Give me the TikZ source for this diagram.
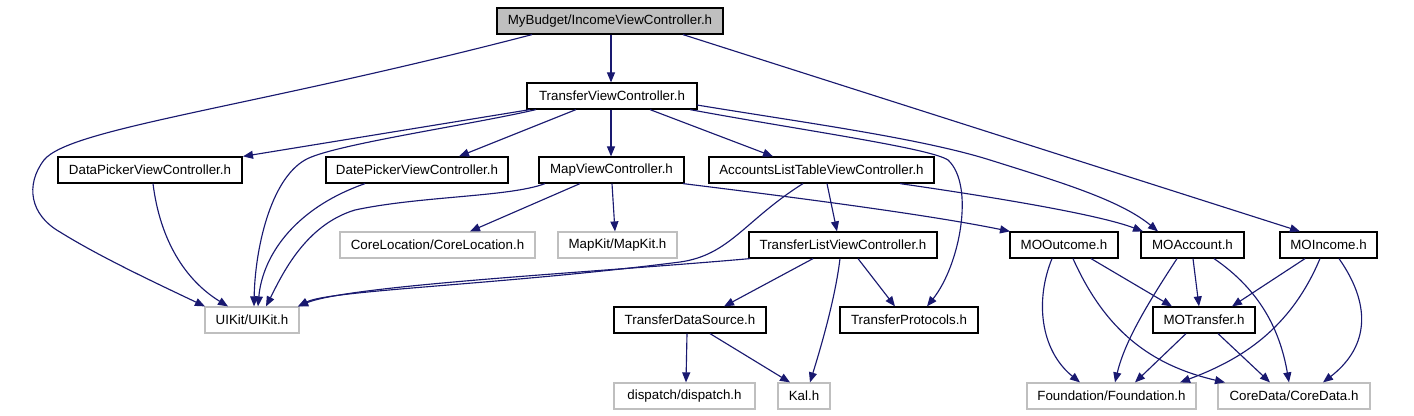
\documentclass[tikz,border=0pt]{standalone}
\usepackage{fontspec}
\setmainfont{Liberation Sans}
\usetikzlibrary{arrows.meta,calc}
\definecolor{edgeblue}{HTML}{191970}
\definecolor{grey75}{HTML}{BFBFBF}
\tikzset{
  box/.style={draw=black,line width=0.9pt,rectangle,inner sep=0pt,minimum height=19.5pt,font=\fontsize{10}{12}\selectfont},
  extbox/.style={box,draw=grey75},
  rootbox/.style={box,fill=grey75},
  edge/.style={draw=edgeblue,line width=0.85pt,-{Triangle[length=7.5pt,width=6pt]}},
}
\begin{document}
\begin{tikzpicture}[x=0.75pt,y=-0.75pt]
\fill[white] (0,0) rectangle (1414,415);
\useasboundingbox (0,0) rectangle (1414,415);
% nodes
\node[rootbox,minimum width=169.5pt] (root) at (610,21) {MyBudget/IncomeViewController.h};
\node[box,minimum width=127.5pt] (tvc) at (612,96) {TransferViewController.h};
\node[box,minimum width=138pt] (datap) at (150,170) {DataPickerViewController.h};
\node[box,minimum width=136.5pt] (datep) at (417,170) {DatePickerViewController.h};
\node[box,minimum width=108.75pt] (mapvc) at (611.5,170) {MapViewController.h};
\node[box,minimum width=168.75pt] (accl) at (821.5,170) {AccountsListTableViewController.h};
\node[extbox,minimum width=146.25pt] (cloc) at (437.5,245) {CoreLocation/CoreLocation.h};
\node[extbox,minimum width=89.25pt] (mapkit) at (617.5,245) {MapKit/MapKit.h};
\node[box,minimum width=141pt] (tlvc) at (843,245) {TransferListViewController.h};
\node[box,minimum width=81pt] (moout) at (1064,245) {MOOutcome.h};
\node[box,minimum width=77.25pt] (moacc) at (1192.5,245) {MOAccount.h};
\node[box,minimum width=72.75pt] (moinc) at (1328.5,245) {MOIncome.h};
\node[extbox,minimum width=70.5pt] (uikit) at (252,320) {UIKit/UIKit.h};
\node[box,minimum width=114pt] (tds) at (690,320) {TransferDataSource.h};
\node[box,minimum width=103.5pt] (tprot) at (909,320) {TransferProtocols.h};
\node[box,minimum width=76.5pt] (motr) at (1204,320) {MOTransfer.h};
\node[extbox,minimum width=105.75pt] (disp) at (684.5,396) {dispatch/dispatch.h};
\node[extbox,minimum width=39pt] (kal) at (804,396) {Kal.h};
\node[extbox,minimum width=126.75pt] (found) at (1111.5,396) {Foundation/Foundation.h};
\node[extbox,minimum width=114pt] (cdata) at (1294,396) {CoreData/CoreData.h};
% edges
\draw[edge] (611,0 |- root.south) -- (611,0 |- tvc.north);
\draw[edge] (532,0 |- root.south) .. controls (250,108) and (70,128) .. (44,160) .. controls (25,185) and (30,215) .. (60,232) .. controls (100,257) and (160,285) .. (205,0 |- uikit.north);
\draw[edge] (683,0 |- root.south) -- (1300,0 |- moinc.north);
\draw[edge] (530,0 |- tvc.south) -- (243,0 |- datap.north);
\draw[edge] (576,0 |- tvc.south) -- (459,0 |- datep.north);
\draw[edge] (611,0 |- tvc.south) -- (611,0 |- mapvc.north);
\draw[edge] (650,0 |- tvc.south) -- (773,0 |- accl.north);
\draw[edge] (536,0 |- tvc.south) .. controls (470,125) and (330,145) .. (305,160) .. controls (270,180) and (255,250) .. (254,0 |- uikit.north);
\draw[edge] (690,0 |- tvc.south) .. controls (800,130) and (930,148) .. (948,160) .. controls (975,185) and (960,265) .. (927,0 |- tprot.north);
\draw[edge] (697,105) .. controls (800,122) and (920,138) .. (990,160) .. controls (1060,182) and (1120,200) .. (1158,0 |- moacc.north);
\draw[edge] (153,0 |- datap.south) .. controls (160,240) and (185,280) .. (228,0 |- uikit.north);
\draw[edge] (365,0 |- datep.south) .. controls (290,210) and (262,260) .. (258,0 |- uikit.north);
\draw[edge] (545,0 |- mapvc.south) .. controls (510,197) and (420,196) .. (355,210) .. controls (305,225) and (282,275) .. (266,0 |- uikit.north);
\draw[edge] (580,0 |- mapvc.south) -- (470,0 |- cloc.north);
\draw[edge] (612,0 |- mapvc.south) -- (615,0 |- mapkit.north);
\draw[edge] (683,0 |- mapvc.south) .. controls (800,198) and (930,215) .. (1010,0 |- moout.north);
\draw[edge] (803,0 |- accl.south) .. controls (745,220) and (730,255) .. (680,262) .. controls (500,285) and (330,290) .. (298,0 |- uikit.north);
\draw[edge] (750,0 |- tlvc.south) .. controls (600,272) and (350,285) .. (298,0 |- uikit.north);
\draw[edge] (827,0 |- accl.south) -- (837,0 |- tlvc.north);
\draw[edge] (900,0 |- accl.south) .. controls (1000,198) and (1100,215) .. (1143,0 |- moacc.north);
\draw[edge] (813,0 |- tlvc.south) -- (724,0 |- tds.north);
\draw[edge] (858,0 |- tlvc.south) -- (895,0 |- tprot.north);
\draw[edge] (840,0 |- tlvc.south) .. controls (835,300) and (820,350) .. (810,0 |- kal.north);
\draw[edge] (687,0 |- tds.south) -- (686,0 |- disp.north);
\draw[edge] (710,0 |- tds.south) -- (790,0 |- kal.north);
\draw[edge] (1052,0 |- moout.south) .. controls (1035,300) and (1040,350) .. (1080,0 |- found.north);
\draw[edge] (1073,0 |- moout.south) .. controls (1105,330) and (1150,365) .. (1225,0 |- cdata.north);
\draw[edge] (1091,0 |- moout.south) -- (1172,0 |- motr.north);
\draw[edge] (1177,0 |- moacc.south) .. controls (1150,300) and (1125,340) .. (1115,0 |- found.north);
\draw[edge] (1193,0 |- moacc.south) -- (1199,0 |- motr.north);
\draw[edge] (1214,0 |- moacc.south) .. controls (1260,290) and (1280,330) .. (1289,0 |- cdata.north);
\draw[edge] (1305,0 |- moinc.south) -- (1232,0 |- motr.north);
\draw[edge] (1320,0 |- moinc.south) .. controls (1290,330) and (1240,360) .. (1180,0 |- found.north);
\draw[edge] (1339,0 |- moinc.south) .. controls (1375,310) and (1365,350) .. (1323,0 |- cdata.north);
\draw[edge] (1186,0 |- motr.south) -- (1135,0 |- found.north);
\draw[edge] (1218,0 |- motr.south) -- (1270,0 |- cdata.north);
\end{tikzpicture}
\end{document}
